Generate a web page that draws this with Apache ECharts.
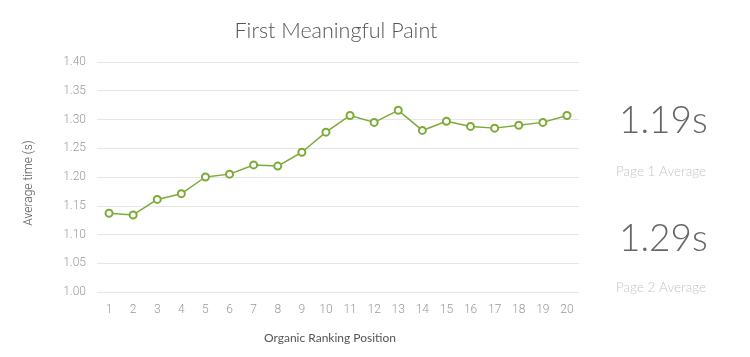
<!DOCTYPE html>
<html>
<head>
<meta charset="utf-8">
<script src="https://cdn.jsdelivr.net/npm/echarts@6/dist/echarts.min.js"></script>
<style>
html,body{margin:0;padding:0;background:#fff;}
#chart{width:750px;height:357px;}
</style>
</head>
<body>
<div id="chart"></div>
<script>
const categories = ['1','2','3','4','5','6','7','8','9','10','11','12','13','14','15','16','17','18','19','20'];
const avgTime = [1.137,1.134,1.161,1.171,1.200,1.205,1.221,1.219,1.243,1.278,1.307,1.295,1.316,1.281,1.297,1.288,1.285,1.290,1.295,1.307];
const statValues = ['1.19s','1.29s'];
const statLabels = ['Page 1 Average','Page 2 Average'];

const chart = echarts.init(document.getElementById('chart'));
chart.setOption({
  backgroundColor: '#fff',
  animation: false,
  title: {
    text: 'First Meaningful Paint',
    left: 331, top: 15, textAlign: 'center',
    textStyle: {fontFamily: 'Lato', fontWeight: 300, fontSize: 21.5, color: '#555'}
  },
  grid: {left: 97, right: 171, top: 62, bottom: 65, containLabel: false},
  xAxis: {
    type: 'category',
    data: categories,
    boundaryGap: true,
    name: 'Organic Ranking Position',
    nameLocation: 'middle',
    nameGap: 40,
    nameTextStyle: {fontFamily: 'Lato', fontSize: 12, color: '#555', padding: [0, 16, 0, 0]},
    axisLine: {show: false},
    axisTick: {show: false},
    axisLabel: {fontFamily: 'Roboto', fontWeight: 300, fontSize: 12, color: '#999', margin: 12}
  },
  yAxis: {
    type: 'value',
    min: 1.0, max: 1.4, interval: 0.05,
    name: 'Average time (s)',
    nameLocation: 'middle',
    nameGap: 62,
    nameTextStyle: {fontFamily: 'Roboto', fontWeight: 300, fontSize: 12, color: '#555', padding: [0, 12, 0, 0]},
    axisLine: {show: false},
    axisTick: {show: false},
    axisLabel: {fontFamily: 'Roboto', fontWeight: 300, fontSize: 12, color: '#999', margin: 11,
      formatter: v => v.toFixed(2)},
    splitLine: {lineStyle: {color: '#e6e6e6', width: 1}}
  },
  series: [{
    type: 'line',
    data: avgTime,
    symbol: 'emptyCircle',
    symbolSize: 7,
    itemStyle: {color: '#7eaa3a', borderWidth: 1.5},
    lineStyle: {color: '#7eaa3a', width: 1.5}
  }],
  graphic: [
    {type: 'text', left: 619, top: 103, style: {text: statValues[0], font: '300 37px Lato', fill: '#666'}},
    {type: 'text', left: 616, top: 165, style: {text: statLabels[0], font: '300 13.5px Lato', fill: '#c4c4c4'}},
    {type: 'text', left: 619, top: 221, style: {text: statValues[1], font: '300 37px Lato', fill: '#666'}},
    {type: 'text', left: 616, top: 281, style: {text: statLabels[1], font: '300 13.5px Lato', fill: '#c4c4c4'}}
  ]
});
</script>
</body>
</html>
